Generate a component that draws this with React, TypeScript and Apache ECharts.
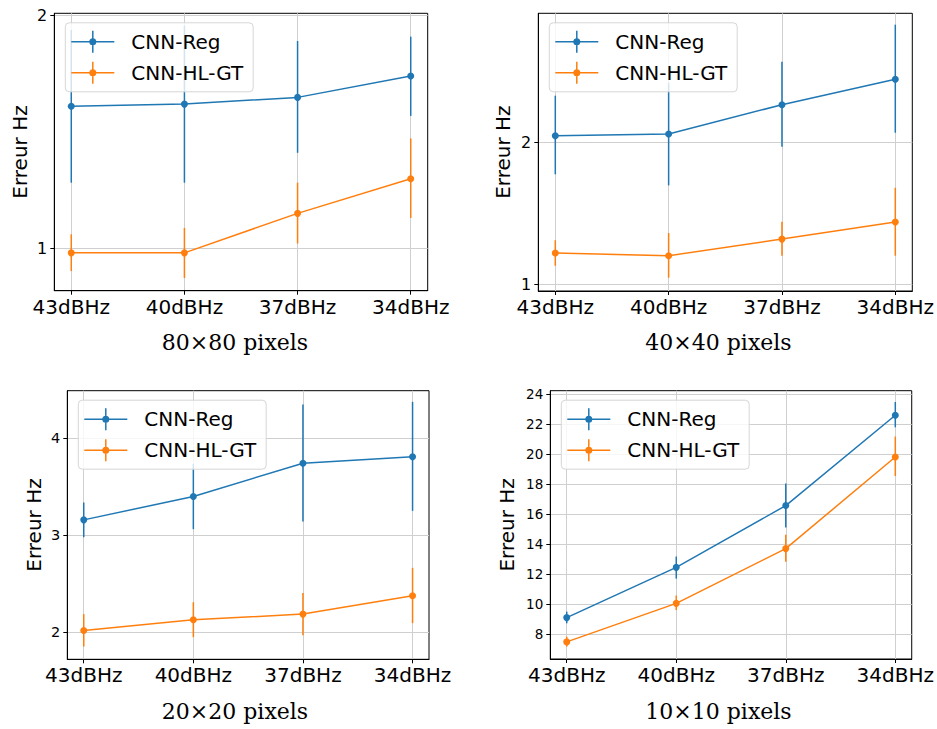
import React, { useEffect, useRef } from "react";
import * as echarts from "echarts";

const categories = ["43dBHz", "40dBHz", "37dBHz", "34dBHz"];
const seriesNames = ["CNN-Reg", "CNN-HL-GT"];
const panelTitles = ["80×80 pixels", "40×40 pixels", "20×20 pixels", "10×10 pixels"];

// 80x80 (log axis)
const reg80 = [1.526, 1.536, 1.567, 1.67];
const reg80Low = [1.216, 1.216, 1.329, 1.483];
const reg80High = [1.915, 1.94, 1.853, 1.877];
const hl80 = [0.987, 0.987, 1.11, 1.23];
const hl80Low = [0.935, 0.916, 1.015, 1.095];
const hl80High = [1.043, 1.063, 1.216, 1.387];

// 40x40 (log axis)
const reg40 = [2.065, 2.083, 2.403, 2.72];
const reg40Low = [1.711, 1.621, 1.957, 2.096];
const reg40High = [2.511, 2.676, 2.964, 3.551];
const hl40 = [1.165, 1.15, 1.247, 1.356];
const hl40Low = [1.095, 1.033, 1.15, 1.15];
const hl40High = [1.24, 1.285, 1.357, 1.602];

// 20x20
const reg20 = [3.158, 3.399, 3.742, 3.808];
const reg20Low = [2.979, 3.062, 3.141, 3.251];
const reg20High = [3.337, 3.736, 4.347, 4.375];
const hl20 = [2.017, 2.127, 2.186, 2.375];
const hl20Low = [1.852, 1.948, 1.969, 2.093];
const hl20High = [2.186, 2.309, 2.405, 2.663];

// 10x10
const reg10 = [9.09, 12.44, 16.56, 22.58];
const reg10Low = [8.71, 11.69, 15.09, 21.78];
const reg10High = [9.49, 13.16, 18.04, 23.47];
const hl10 = [7.47, 10.04, 13.69, 19.8];
const hl10Low = [7.16, 9.6, 12.82, 18.53];
const hl10High = [7.82, 10.56, 14.62, 21.16];

const yTicks80 = [1, 2];
const yTicks40 = [1, 2];
const yTicks20 = [2, 3, 4];
const yTicks10 = [8, 10, 12, 14, 16, 18, 20, 22, 24];

const COLORS = ["#1f77b4", "#ff7f0e"];
const SANS = "DejaVu Sans";
const SERIF = "DejaVu Serif";

const LEGEND_ICON =
  "path://M0,10.25h43v1.5h-43z M20.75,0h1.5v22h-1.5z M18,11a3.5,3.5 0 1,1 7,0a3.5,3.5 0 1,1 -7,0z";

type Panel = {
  grid: { left: number; top: number; width: number; height: number };
  yType: "log" | "value";
  yMin: number;
  yMax: number;
  yTicks: number[];
  yFont: number;
  nameGap: number;
  series: { v: number[]; lo: number[]; hi: number[] }[];
  title: string;
  titlePos: [number, number];
};

const panels: Panel[] = [
  {
    grid: { left: 54.3, top: 13.3, width: 373.4, height: 277.4 },
    yType: "log",
    yMin: 0.882,
    yMax: 2.012,
    yTicks: yTicks80,
    yFont: 16,
    nameGap: 24,
    series: [
      { v: reg80, lo: reg80Low, hi: reg80High },
      { v: hl80, lo: hl80Low, hi: hl80High },
    ],
    title: panelTitles[0],
    titlePos: [235, 342],
  },
  {
    grid: { left: 538.3, top: 13.3, width: 374, height: 277.7 },
    yType: "log",
    yMin: 0.968,
    yMax: 3.754,
    yTicks: yTicks40,
    yFont: 16,
    nameGap: 25,
    series: [
      { v: reg40, lo: reg40Low, hi: reg40High },
      { v: hl40, lo: hl40Low, hi: hl40High },
    ],
    title: panelTitles[1],
    titlePos: [718.5, 342],
  },
  {
    grid: { left: 67.3, top: 390.7, width: 361.7, height: 268.6 },
    yType: "value",
    yMin: 1.72,
    yMax: 4.49,
    yTicks: yTicks20,
    yFont: 14.5,
    nameGap: 23,
    series: [
      { v: reg20, lo: reg20Low, hi: reg20High },
      { v: hl20, lo: hl20Low, hi: hl20High },
    ],
    title: panelTitles[2],
    titlePos: [235, 711],
  },
  {
    grid: { left: 550.3, top: 390.7, width: 362, height: 268.3 },
    yType: "value",
    yMin: 6.33,
    yMax: 24.22,
    yTicks: yTicks10,
    yFont: 13.5,
    nameGap: 33,
    series: [
      { v: reg10, lo: reg10Low, hi: reg10High },
      { v: hl10, lo: hl10Low, hi: hl10High },
    ],
    title: panelTitles[3],
    titlePos: [718.5, 711],
  },
];

function buildOption() {
  const grids: any[] = [];
  const xAxes: any[] = [];
  const yAxes: any[] = [];
  const legends: any[] = [];
  const series: any[] = [];
  const graphics: any[] = [];
  const xVals = categories.map((_, i) => i);

  panels.forEach((p, pi) => {
    grids.push({
      ...p.grid,
      show: true,
      borderColor: "#000",
      borderWidth: 1,
      backgroundColor: "transparent",
      containLabel: false,
    });
    xAxes.push({
      type: "value",
      gridIndex: pi,
      min: -0.15,
      max: 3.15,
      axisLine: { show: true, onZero: false, lineStyle: { color: "#000", width: 1 } },
      axisTick: {
        show: true,
        customValues: xVals,
        length: 4,
        inside: false,
        lineStyle: { color: "#000", width: 1 },
      },
      axisLabel: {
        customValues: xVals,
        formatter: (v: number) => categories[Math.round(v)] ?? "",
        fontFamily: SANS,
        fontSize: 20,
        color: "#000",
        margin: 6,
      },
      splitLine: { show: true, lineStyle: { color: "#cfcfcf", width: 1 } },
    });
    yAxes.push({
      type: p.yType,
      logBase: 10,
      gridIndex: pi,
      min: p.yMin,
      max: p.yMax,
      name: "Erreur Hz",
      nameLocation: "middle",
      nameGap: p.nameGap,
      nameTextStyle: { fontFamily: SANS, fontSize: 20, color: "#000" },
      axisLine: { show: true, onZero: false, lineStyle: { color: "#000", width: 1 } },
      axisTick: {
        show: true,
        customValues: p.yTicks,
        length: 4,
        inside: false,
        lineStyle: { color: "#000", width: 1 },
      },
      minorTick: { show: false },
      axisLabel: {
        customValues: p.yTicks,
        formatter: (v: number) => String(Math.round(v * 1000) / 1000),
        fontFamily: SANS,
        fontSize: p.yFont,
        color: "#000",
        margin: 7,
      },
      splitLine: { show: true, lineStyle: { color: "#cfcfcf", width: 1 } },
    });
    legends.push({
      orient: "vertical",
      left: p.grid.left + 11,
      top: p.grid.top + 9.5,
      data: seriesNames,
      icon: LEGEND_ICON,
      itemWidth: 43,
      itemHeight: 22,
      itemGap: 9,
      padding: [8, 10, 8, 6],
      backgroundColor: "rgba(255,255,255,0.8)",
      borderColor: "#d6d6d6",
      borderWidth: 1,
      borderRadius: 4,
      itemStyle: { borderWidth: 0 },
      textStyle: {
        fontFamily: SANS,
        fontSize: 20,
        color: "#000",
        lineHeight: 22,
        padding: [0, 0, 0, 12],
      },
      z: 10,
    });
    p.series.forEach((s, si) => {
      const color = COLORS[si];
      series.push({
        type: "line",
        name: seriesNames[si],
        xAxisIndex: pi,
        yAxisIndex: pi,
        data: s.v.map((v, i) => [i, v]),
        symbol: "circle",
        symbolSize: 7,
        showSymbol: true,
        color,
        lineStyle: { color, width: 1.5 },
        itemStyle: { color },
        z: 3,
      });
      series.push({
        type: "custom",
        name: seriesNames[si],
        xAxisIndex: pi,
        yAxisIndex: pi,
        data: s.v.map((_, i) => [i, s.lo[i], s.hi[i]]),
        encode: { x: 0, y: [1, 2] },
        color,
        z: 2,
        renderItem: (params: any, api: any) => {
          const x = api.value(0);
          const a = api.coord([x, api.value(1)]);
          const b = api.coord([x, api.value(2)]);
          return {
            type: "line",
            shape: { x1: a[0], y1: a[1], x2: b[0], y2: b[1] },
            style: { stroke: color, lineWidth: 1.5 },
          };
        },
      });
    });
    graphics.push({
      type: "text",
      x: p.titlePos[0],
      y: p.titlePos[1],
      style: {
        text: p.title,
        font: `22px "${SERIF}"`,
        fill: "#000",
        textAlign: "center",
        textVerticalAlign: "middle",
      },
    });
  });

  return {
    animation: false,
    backgroundColor: "#fff",
    grid: grids,
    xAxis: xAxes,
    yAxis: yAxes,
    legend: legends,
    series,
    graphic: graphics,
  };
}

export default function App() {
  const ref = useRef<HTMLDivElement>(null);
  useEffect(() => {
    document.body.style.margin = "0";
    if (!ref.current) return;
    const chart = echarts.init(ref.current, null, { renderer: "svg" });
    chart.setOption(buildOption() as any);
    return () => chart.dispose();
  }, []);
  return (
    <div
      ref={ref}
      style={{ position: "absolute", left: 0, top: 0, width: 937, height: 729 }}
    />
  );
}
